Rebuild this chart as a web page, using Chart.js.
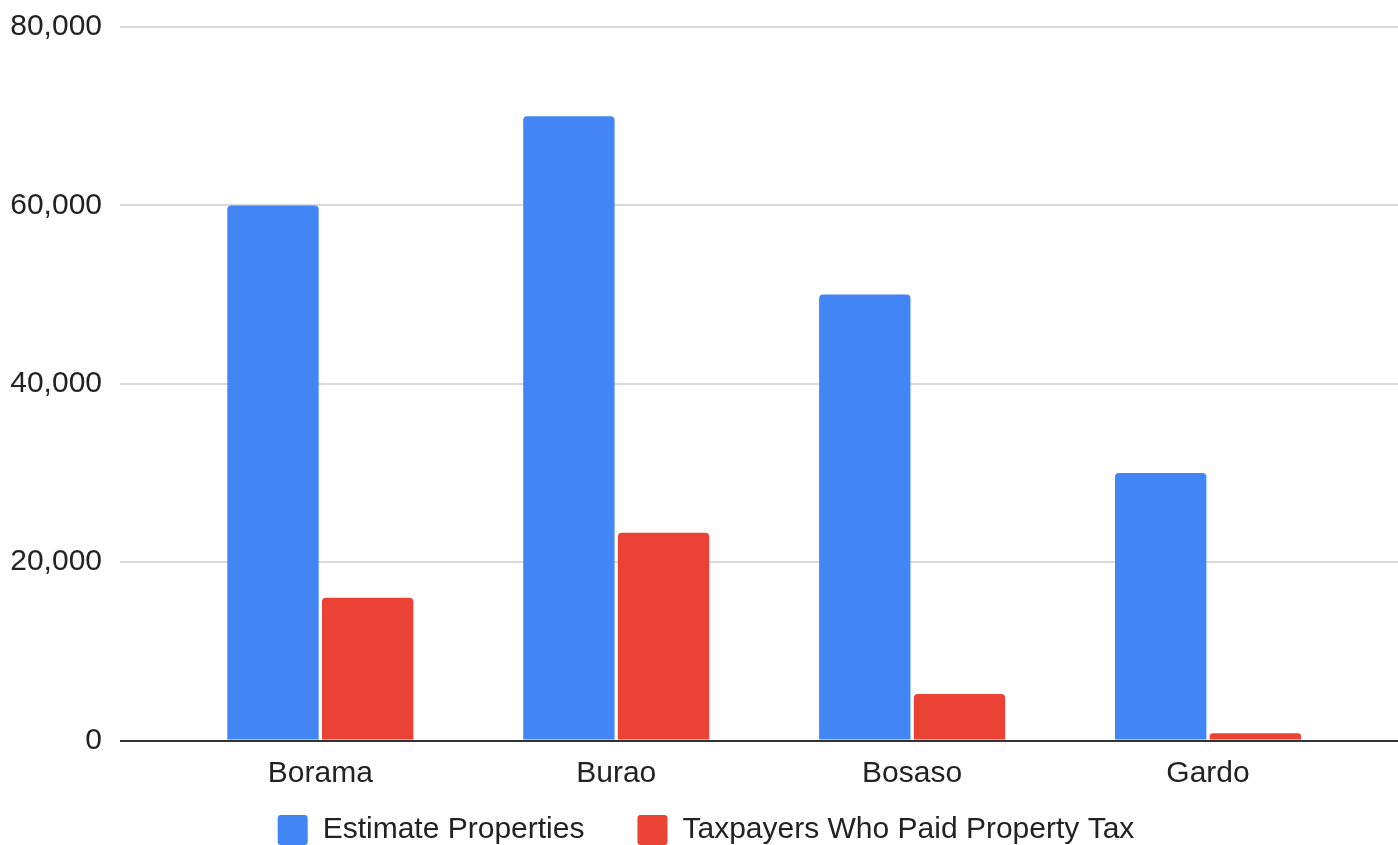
<!DOCTYPE html>
<html lang="en-US">
<head>
	<meta charset="utf-8">
	<script src="https://cdn.jsdelivr.net/npm/chart.js@4/dist/chart.umd.min.js"></script>
	<style>
		html, body { margin:0; padding:0; background:#fff; }
		#wrap { width:1398px; height:845px; }
	</style>
</head>
<body>
	<div id="wrap"><canvas id="myChart" width="1398" height="845"></canvas></div>
	<script>
	// categories and series
	var cidades       = ["Borama", "Burao", "Bosaso", "Gardo"];
	var estimativa    = [60000, 70000, 50000, 30000];
	var contribuintes = [16000, 23300, 5200, 800];
	var ticksY        = [0, 20000, 40000, 60000, 80000];

	var azul     = "#4285F4";
	var vermelho = "#EA4335";
	var fonte    = "'Liberation Sans', Arial, sans-serif";

	function pontos(valores)
	{
		var arr = [];
		for (var i = 0; i < valores.length; i++)
			arr.push({ x: i, y: valores[i] });
		return arr;
	}

	// the x axis box is kept short so the legend sits close; let its labels draw below it
	// and nudge the legend a little to the right
	var rotulosLivres = {
		id: 'rotulosLivres',
		afterLayout: function(chart)
		{
			chart.scales.x.bottom = chart.height;
			chart.legend.left  += 7;
			chart.legend.right += 7;
		}
	};

	var ctx = document.getElementById('myChart').getContext('2d');
	var myChart = new Chart(ctx, {
		type: 'bar',
		plugins: [rotulosLivres],
		data:
		{
			datasets:
			[{
				label: 'Estimate Properties',
				data: pontos(estimativa),
				backgroundColor: azul,
				borderRadius: { topLeft: 4, topRight: 4 },
				borderSkipped: 'bottom',
				categoryPercentage: 0.64,
				barPercentage: 0.965
			},
			{
				label: 'Taxpayers Who Paid Property Tax',
				data: pontos(contribuintes),
				backgroundColor: vermelho,
				borderRadius: { topLeft: 4, topRight: 4 },
				borderSkipped: 'bottom',
				categoryPercentage: 0.64,
				barPercentage: 0.965
			}]
		},
		options:
		{
			responsive: false,
			animation: false,
			layout: { padding: { top: 27, right: 0, left: 0, bottom: -10 } },
			plugins:
			{
				tooltip: { enabled: false },
				legend:
				{
					position: 'bottom',
					labels:
					{
						color: '#222',
						font: { family: fonte, size: 30 },
						boxWidth: 30,
						boxHeight: 30,
						padding: 53,
						useBorderRadius: true,
						borderRadius: 3
					}
				}
			},
			scales:
			{
				x:
				{
					type: 'linear',
					offset: false,
					min: -0.677,
					max: 3.642,
					grid: { display: false },
					border: { display: false },
					afterFit: function(scale) { scale.height = 21.5; },
					afterBuildTicks: function(scale)
					{
						scale.ticks = cidades.map(function(c, i) { return { value: i }; });
					},
					ticks:
					{
						autoSkip: false,
						maxRotation: 0,
						padding: 7,
						color: '#222',
						font: { family: fonte, size: 30 },
						callback: function(v) { return cidades[v] || ''; }
					}
				},
				y:
				{
					min: 0,
					max: 80000,
					afterFit: function(scale)
					{
						scale.width = 120;
						scale.paddingTop = 0;
						scale.paddingBottom = 0;
					},
					afterBuildTicks: function(scale)
					{
						scale.ticks = ticksY.map(function(v) { return { value: v }; });
					},
					border: { display: false },
					grid:
					{
						drawTicks: false,
						lineWidth: 2,
						color: function(c) { return c.tick && c.tick.value === 0 ? '#333' : '#d9d9d9'; }
					},
					ticks:
					{
						padding: 18,
						color: '#222',
						font: { family: fonte, size: 30 },
						callback: function(v) { return v.toLocaleString('en-US'); }
					}
				}
			}
		}
	});
	</script>
</body>
</html>
